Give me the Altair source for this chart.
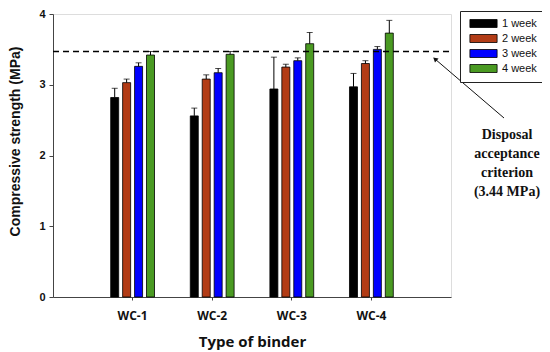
import altair as alt
import pandas as pd

groups = ["WC-1", "WC-2", "WC-3", "WC-4"]
weeks = ["1 week", "2 week", "3 week", "4 week"]
colors = ["#000000", "#b23c16", "#0000ff", "#4a9a22"]

w1 = [2.82, 2.56, 2.94, 2.97]
w2 = [3.03, 3.08, 3.25, 3.30]
w3 = [3.26, 3.17, 3.34, 3.50]
w4 = [3.42, 3.43, 3.58, 3.73]
e1 = [0.13, 0.11, 0.45, 0.19]
e2 = [0.05, 0.06, 0.04, 0.04]
e3 = [0.05, 0.06, 0.04, 0.04]
e4 = [0.05, 0.04, 0.16, 0.18]
criterion = 3.47
note_lines = ["Disposal", "acceptance", "criterion", "(3.44 MPa)"]

rows = []
for wk, vals, errs in zip(weeks, [w1, w2, w3, w4], [e1, e2, e3, e4]):
    for g, v, e in zip(groups, vals, errs):
        rows.append({"binder": g, "week": wk, "value": v, "err": e})
df = pd.DataFrame(rows)

W, H = 398, 283

xenc = alt.X("binder:N", sort=groups,
             scale=alt.Scale(paddingInner=0.4, paddingOuter=0.7),
             axis=alt.Axis(title="Type of binder", labelAngle=0,
                           labelFont="Open Sans", labelFontSize=12, labelFontWeight="bold",
                           labelColor="#111", labelPadding=10,
                           titleFont="Open Sans", titleFontSize=15, titleFontWeight="bold",
                           titleColor="#111", titlePadding=13,
                           domainColor="#444", tickColor="#444", tickSize=3))
xoff = alt.XOffset("week:N", sort=weeks,
                   scale=alt.Scale(paddingInner=0.33, paddingOuter=0.165))
yscale = alt.Scale(domain=[0, 4], nice=False)

base = alt.Chart(df)

bars = base.mark_bar(stroke="#000", strokeWidth=0.8).encode(
    x=xenc, xOffset=xoff,
    y=alt.Y("value:Q", scale=yscale,
            axis=alt.Axis(title="Compressive strength (MPa)", values=[0, 1, 2, 3, 4],
                          format="d", grid=False,
                          labelFont="Liberation Sans", labelFontSize=11, labelFontWeight="bold",
                          labelColor="#111", labelPadding=4,
                          titleFont="Liberation Sans", titleFontSize=14, titleFontWeight="bold",
                          titleColor="#111", titlePadding=16, titleY=127,
                          domainColor="#444", tickColor="#444", tickSize=4)),
    color=alt.Color("week:N", sort=weeks,
                    scale=alt.Scale(domain=weeks, range=colors),
                    legend=alt.Legend(title=None, orient="none", legendX=407, legendY=-3,
                                      direction="vertical",
                                      symbolType="M-3.4,-1H3.4V1H-3.4Z",
                                      symbolSize=64, symbolStrokeColor="#000",
                                      symbolStrokeWidth=0.8, symbolOpacity=1,
                                      labelFont="Liberation Sans", labelFontSize=11,
                                      labelColor="#111", rowPadding=2,
                                      padding=7, strokeColor="#222", fillColor="white",
                                      symbolOffset=11, labelOffset=13)),
)

errs = base.transform_calculate(top="datum.value + datum.err").mark_rule(
    color="#000", strokeWidth=1).encode(
    x=alt.X("binder:N", sort=groups), xOffset=xoff,
    y=alt.Y("value:Q", scale=yscale), y2="top:Q")

caps = base.transform_calculate(top="datum.value + datum.err").mark_tick(
    color="#000", thickness=1, size=6, orient="horizontal").encode(
    x=alt.X("binder:N", sort=groups), xOffset=xoff,
    y=alt.Y("top:Q", scale=yscale))

crit = alt.Chart(pd.DataFrame({"c": [criterion]})).mark_rule(
    color="#000", strokeWidth=1.5, strokeDash=[6, 4]).encode(
    y=alt.Y("c:Q", scale=yscale), x=alt.value(0), x2=alt.value(W))

note = alt.Chart(pd.DataFrame({"t": [note_lines]})).mark_text(
    font="Liberation Serif", fontSize=14, fontWeight="bold", color="#111",
    lineHeight=19, align="center", baseline="middle").encode(
    text="t", x=alt.value(454), y=alt.value(121))

arrow = alt.Chart(pd.DataFrame({"a": [0]})).mark_rule(color="#111", strokeWidth=1).encode(
    x=alt.value(451), y=alt.value(104), x2=alt.value(382), y2=alt.value(45))
head = alt.Chart(pd.DataFrame({"a": [0]})).mark_point(
    shape="triangle-up", filled=True, color="#111", size=30, angle=311, opacity=1).encode(
    x=alt.value(382), y=alt.value(45))

chart = alt.layer(bars, errs, caps, crit, arrow, head, note).properties(
    width=W, height=H,
    autosize=alt.AutoSizeParams(type="none"),
    padding={"left": 45, "top": 6, "right": 91, "bottom": 54},
).configure_view(stroke="#444", strokeWidth=1).configure(background="white")

chart.save("out.html", embed_options={"renderer": "svg", "actions": False})
